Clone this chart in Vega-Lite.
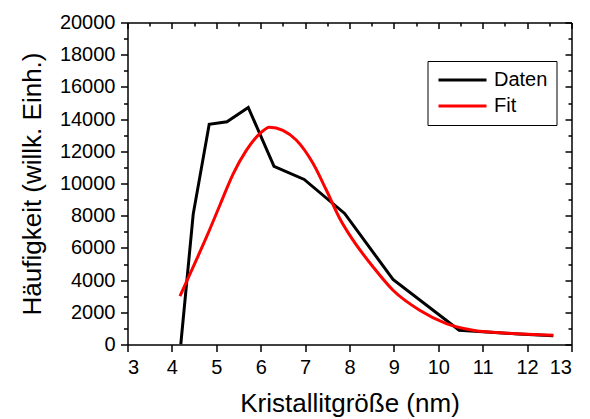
{
  "$schema": "https://vega.github.io/schema/vega-lite/v6.json",
  "autosize": "none",
  "width": 444,
  "height": 322,
  "padding": {"left": 127.5, "top": 22.5, "right": 18.5, "bottom": 74.5},
  "background": "white",
  "config": {
    "font": "Liberation Sans",
    "view": {"stroke": null},
    "axis": {
      "grid": false,
      "domainColor": "black",
      "domainWidth": 1.5,
      "tickColor": "black",
      "tickWidth": 1.5,
      "labelColor": "black",
      "labelFont": "Liberation Sans",
      "labelFontSize": 20,
      "titleColor": "black",
      "titleFont": "Liberation Sans",
      "titleFontSize": 26,
      "titleFontWeight": "normal",
      "labelOverlap": false
    },
    "legend": {
      "labelFont": "Liberation Sans",
      "labelFontSize": 20,
      "labelColor": "black"
    }
  },
  "data": {
    "values": [
      {"x": 4.2, "y": 0, "s": "Daten"},
      {"x": 4.48, "y": 8100, "s": "Daten"},
      {"x": 4.84, "y": 13680, "s": "Daten"},
      {"x": 5.24, "y": 13830, "s": "Daten"},
      {"x": 5.72, "y": 14720, "s": "Daten"},
      {"x": 6.3, "y": 11070, "s": "Daten"},
      {"x": 6.98, "y": 10250, "s": "Daten"},
      {"x": 7.89, "y": 8140, "s": "Daten"},
      {"x": 8.98, "y": 4040, "s": "Daten"},
      {"x": 10.47, "y": 890, "s": "Daten"},
      {"x": 11.09, "y": 780, "s": "Daten"},
      {"x": 11.8, "y": 650, "s": "Daten"},
      {"x": 12.59, "y": 540, "s": "Daten"},
      {"x": 4.18, "y": 3000, "s": "Fit"},
      {"x": 4.48, "y": 4820, "s": "Fit"},
      {"x": 4.78, "y": 6680, "s": "Fit"},
      {"x": 5.08, "y": 8650, "s": "Fit"},
      {"x": 5.38, "y": 10600, "s": "Fit"},
      {"x": 5.68, "y": 12070, "s": "Fit"},
      {"x": 5.98, "y": 13100, "s": "Fit"},
      {"x": 6.2, "y": 13500, "s": "Fit"},
      {"x": 6.5, "y": 13300, "s": "Fit"},
      {"x": 6.8, "y": 12700, "s": "Fit"},
      {"x": 7.18, "y": 11240, "s": "Fit"},
      {"x": 7.48, "y": 9580, "s": "Fit"},
      {"x": 7.78, "y": 7830, "s": "Fit"},
      {"x": 8.08, "y": 6480, "s": "Fit"},
      {"x": 8.53, "y": 4820, "s": "Fit"},
      {"x": 8.98, "y": 3370, "s": "Fit"},
      {"x": 9.58, "y": 2130, "s": "Fit"},
      {"x": 10.18, "y": 1300, "s": "Fit"},
      {"x": 10.78, "y": 890, "s": "Fit"},
      {"x": 11.46, "y": 720, "s": "Fit"},
      {"x": 12.59, "y": 580, "s": "Fit"}
    ]
  },
  "layer": [
    {
      "transform": [{"filter": "datum.s === 'Daten'"}],
      "mark": {"type": "line", "strokeWidth": 3, "strokeJoin": "miter", "clip": true},
      "encoding": {
        "x": {
          "field": "x", "type": "quantitative",
          "scale": {"domain": [3, 13], "nice": false, "zero": false},
          "axis": {
            "orient": "bottom",
            "title": "Kristallitgröße (nm)",
            "format": "d",
            "values": [3, 3.5, 4, 4.5, 5, 5.5, 6, 6.5, 7, 7.5, 8, 8.5, 9, 9.5, 10, 10.5, 11, 11.5, 12, 12.5, 13],
            "labelExpr": "datum.value % 1 === 0 ? datum.label : ''",
            "tickSize": {"condition": {"test": "datum.value % 1 === 0", "value": 7}, "value": 4},
            "labelPadding": 6,
            "titlePadding": 13
          }
        },
        "y": {
          "field": "y", "type": "quantitative",
          "scale": {"domain": [0, 20000], "nice": false},
          "axis": {
            "orient": "left",
            "title": "Häufigkeit (willk. Einh.)",
            "values": [0, 1000, 2000, 3000, 4000, 5000, 6000, 7000, 8000, 9000, 10000, 11000, 12000, 13000, 14000, 15000, 16000, 17000, 18000, 19000, 20000],
            "labelExpr": "datum.value % 2000 === 0 ? datum.label : ''",
            "format": "d",
            "tickSize": {"condition": {"test": "datum.value % 2000 === 0", "value": 7}, "value": 4},
            "labelPadding": 5.5,
            "titlePadding": 14
          }
        },
        "color": {
          "field": "s", "type": "nominal",
          "scale": {"domain": ["Daten", "Fit"], "range": ["black", "#ff0000"]},
          "legend": {
            "title": null,
            "orient": "none",
            "legendX": 300,
            "legendY": 38.5,
            "strokeColor": "black",
            "fillColor": "white",
            "padding": 9,
            "symbolType": "M-1,0H5",
            "symbolStrokeWidth": 3,
            "symbolSize": 256,
            "labelOffset": 37.5,
            "rowPadding": 6
          }
        }
      }
    },
    {
      "transform": [{"filter": "datum.s === 'Fit'"}],
      "mark": {"type": "line", "strokeWidth": 3, "interpolate": "monotone", "clip": true},
      "encoding": {
        "x": {
          "field": "x", "type": "quantitative",
          "axis": {
            "orient": "top",
            "title": null,
            "labels": false,
            "values": [3, 3.5, 4, 4.5, 5, 5.5, 6, 6.5, 7, 7.5, 8, 8.5, 9, 9.5, 10, 10.5, 11, 11.5, 12, 12.5, 13],
            "tickSize": {"condition": {"test": "datum.value % 1 === 0", "value": -6}, "value": -3.5}
          }
        },
        "y": {
          "field": "y", "type": "quantitative",
          "axis": {
            "orient": "right",
            "title": null,
            "labels": false,
            "values": [0, 1000, 2000, 3000, 4000, 5000, 6000, 7000, 8000, 9000, 10000, 11000, 12000, 13000, 14000, 15000, 16000, 17000, 18000, 19000, 20000],
            "tickSize": {"condition": {"test": "datum.value % 2000 === 0", "value": -6.5}, "value": -3.5}
          }
        },
        "color": {"field": "s", "type": "nominal"}
      }
    }
  ],
  "resolve": {"axis": {"x": "independent", "y": "independent"}}
}
